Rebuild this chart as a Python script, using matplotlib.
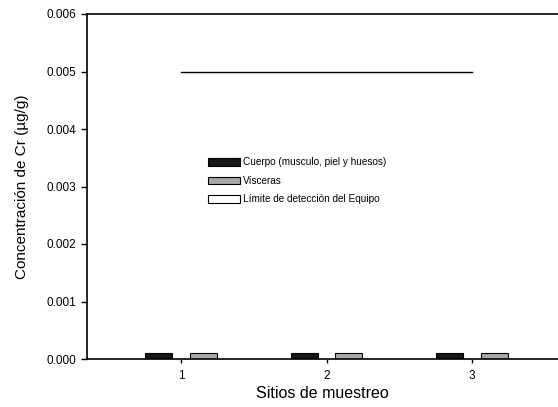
import matplotlib
matplotlib.use("Agg")
import matplotlib.pyplot as plt
from matplotlib.patches import Patch
import numpy as np

sites = [1, 2, 3]
cuerpo = [0.0001, 0.0001, 0.0001]
visceras = [0.0001, 0.0001, 0.0001]
limite = [0.005, 0.005, 0.005]
yticks = [0.000, 0.001, 0.002, 0.003, 0.004, 0.005, 0.006]

plt.rcParams['font.family'] = ['Liberation Sans', 'DejaVu Sans']

fig = plt.figure(figsize=(5.58, 4.07), dpi=100)
ax = fig.add_axes([87/558, 48/407, 471/558, 345/407])

x = np.array(sites)
w = 0.186
ax.bar(x - 0.152, cuerpo, w, color='#161616', edgecolor='black', linewidth=0.8)
ax.bar(x + 0.152, visceras, w, color='#a8a8a8', edgecolor='black', linewidth=0.8)
ax.plot(x, limite, color='black', linewidth=1.0)

ax.set_xlim(0.354, 3.591)
ax.set_ylim(0, 0.006)
ax.set_xticks(sites)
ax.set_xticklabels([str(s) for s in sites])
ax.set_yticks(yticks)
ax.set_yticklabels([f"{v:.3f}" for v in yticks])
ax.tick_params(axis='both', direction='out', labelsize=8.5, width=1.0)
ax.tick_params(axis='y', length=4, pad=4)
ax.tick_params(axis='x', length=3, pad=5)
for s in ['left', 'bottom', 'top']:
    ax.spines[s].set_linewidth(1.2)
ax.spines['right'].set_visible(False)

ax.set_xlabel('Sitios de muestreo', fontsize=11.5, labelpad=3)
ax.set_ylabel('Concentración de Cr (µg/g)', fontsize=11, labelpad=12)

handles = [
    Patch(facecolor='#161616', edgecolor='black', linewidth=0.8),
    Patch(facecolor='#a8a8a8', edgecolor='black', linewidth=0.8),
    Patch(facecolor='white', edgecolor='black', linewidth=0.8),
]
labels = ['Cuerpo (musculo, piel y huesos)', 'Vísceras', 'Límite de detección del Equipo']
ax.legend(handles, labels, loc='upper left', bbox_to_anchor=(0.252, 0.59),
          frameon=False, fontsize=7.2, handlelength=3.2, handleheight=0.8,
          handletextpad=0.35, labelspacing=0.85, borderpad=0.2, borderaxespad=0)

fig.savefig('out.png', dpi=100)
